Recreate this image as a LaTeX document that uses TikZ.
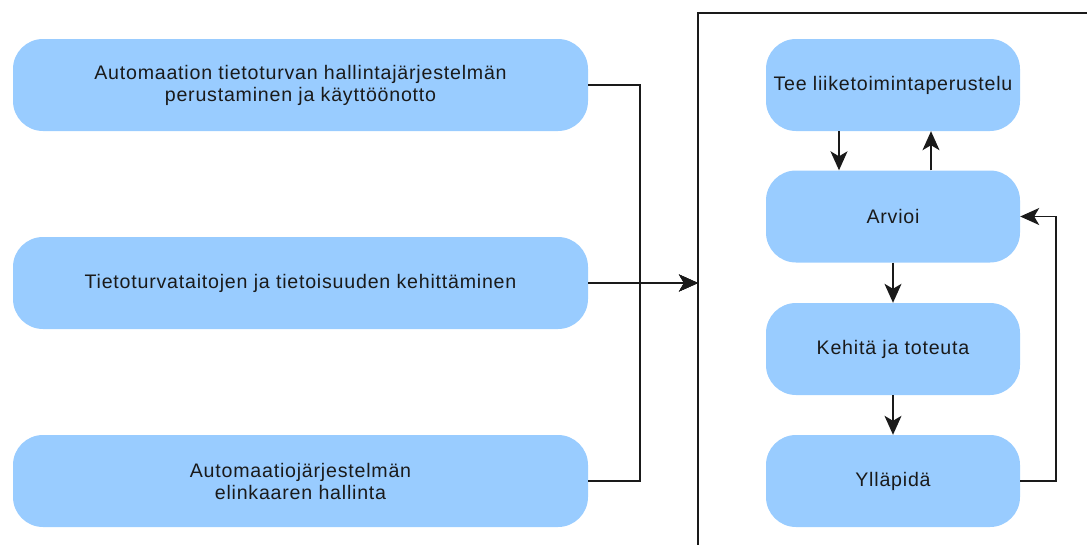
\documentclass[tikz,border=0pt]{standalone}
\usepackage{fontspec}
\setmainfont{Liberation Sans}[LetterSpace=4]
\usetikzlibrary{arrows.meta}
\definecolor{boxblue}{HTML}{99CCFF}
\definecolor{ink}{HTML}{1A1A1A}
\begin{document}
\begin{tikzpicture}[x=1pt,y=-1pt,
  stepbox/.style={fill=boxblue, rounded corners=30pt, inner sep=0pt,
    align=center, text=ink, font=\fontsize{19.6}{22}\selectfont},
  leftbox/.style={stepbox, minimum width=575pt, minimum height=92pt},
  rightbox/.style={stepbox, minimum width=254pt, minimum height=92pt},
  link/.style={draw=ink, line width=1.4pt},
  arr/.style={link, -{Stealth[length=19pt,width=17pt,inset=5pt]}}]
  \useasboundingbox (0,0) rectangle (1087,544);

  % outer frame around the cycle (open at right and bottom)
  \begin{scope}
    \clip (0,0) rectangle (1087,544);
    \draw[draw=ink, line width=1.4pt] (698,560) -- (698,13) -- (1100,13);
  \end{scope}
  \coordinate (framein) at (698,283);

  % left column
  \node[leftbox] (hall) at (300.5,85) {Automaation tietoturvan hallintajärjestelmän\\perustaminen ja käyttöönotto};
  \node[leftbox] (taito) at (300.5,283) {Tietoturvataitojen ja tietoisuuden kehittäminen};
  \node[leftbox] (elin) at (300.5,481) {Automaatiojärjestelmän\\elinkaaren hallinta};

  % right column
  \node[rightbox] (tee) at (893,85) {Tee liiketoimintaperustelu};
  \node[rightbox] (arv) at (893,216.5) {Arvioi};
  \node[rightbox] (keh) at (893,349) {Kehitä ja toteuta};
  \node[rightbox] (yll) at (893,481) {Ylläpidä};

  % connectors into the frame
  \draw[arr] (hall.east) -| (640,283) -- (framein);
  \draw[arr] (elin.east) -| (640,283) -- (framein);
  \draw[arr] (taito.east) -- (framein);

  % cycle arrows
  \draw[arr] (tee.south -| 839,0) -- (arv.north -| 839,0);
  \draw[arr] (arv.north -| 931,0) -- (tee.south -| 931,0);
  \draw[arr] (arv.south) -- (keh.north);
  \draw[arr] (keh.south) -- (yll.north);
  \draw[arr] (yll.east) -- (1056,481) |- (arv.east);
\end{tikzpicture}
\end{document}
